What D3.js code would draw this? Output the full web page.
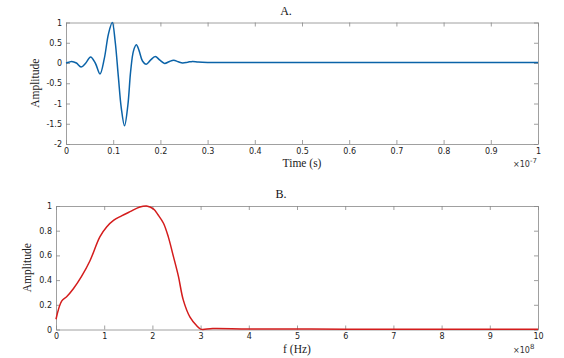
<!DOCTYPE html>
<html><head><meta charset="utf-8">
<script src="https://cdn.jsdelivr.net/npm/d3@7"></script>
<style>body{margin:0;background:#fff}svg{display:block}</style>
</head><body>
<svg id="c" width="564" height="358"></svg>
<script>
// Panel A: time (×1e-7 s) vs amplitude
const timeVals = [0,0.006,0.012,0.022,0.032,0.042,0.052,0.062,0.072,0.081,0.09,0.098,0.104,0.111,0.117,0.124,0.131,0.137,0.143,0.149,0.155,0.162,0.17,0.179,0.189,0.199,0.209,0.218,0.228,0.238,0.247,0.258,0.268,0.28,0.3,0.4,0.6,0.8,1.0];
const ampA     = [0,0.02,0.04,0.0,-0.1,0.0,0.15,0.0,-0.27,0.1,0.72,1.0,0.55,-0.35,-1.1,-1.55,-1.05,-0.2,0.3,0.45,0.3,0.05,-0.03,0.07,0.16,0.07,-0.01,0.03,0.07,0.03,0.0,0.02,0.04,0.025,0.015,0.012,0.011,0.01,0.01];
const xTicksA = [0,0.1,0.2,0.3,0.4,0.5,0.6,0.7,0.8,0.9,1];
const yTicksA = [-2,-1.5,-1,-0.5,0,0.5,1];

// Panel B: frequency (×1e8 Hz) vs amplitude
const freqVals = [0,0.117,0.22,0.36,0.53,0.705,0.91,1.05,1.2,1.36,1.535,1.74,1.88,2.02,2.12,2.23,2.33,2.43,2.54,2.64,2.78,2.92,3.0,3.25,4,6,8,10];
const ampB     = [0.083,0.23,0.265,0.33,0.43,0.557,0.75,0.83,0.885,0.92,0.954,0.992,1.0,0.976,0.927,0.86,0.75,0.6,0.43,0.24,0.1,0.03,0.003,0.008,0.005,0.003,0.002,0.002];
const xTicksB = [0,1,2,3,4,5,6,7,8,9,10];
const yTicksB = [0,0.2,0.4,0.6,0.8,1];

const svg = d3.select("#c");
const serif = "'Liberation Serif','DejaVu Serif',serif";
const sans = "'DejaVu Sans',sans-serif";

function panel(o){
  const x = d3.scaleLinear().domain(o.xd).range([o.l,o.r]);
  const y = d3.scaleLinear().domain(o.yd).range([o.b,o.t]);
  const g = svg.append("g");
  const ax = (gen, tr) => {
    const a = g.append("g").attr("transform",tr).call(gen);
    a.selectAll("path").attr("stroke","#888").attr("stroke-width",0.8);
    a.selectAll("line").attr("stroke","#888").attr("stroke-width",0.8);
    a.selectAll("text").attr("fill","#222").style("font-family",sans).style("font-size","8px");
    return a;
  };
  ax(d3.axisBottom(x).tickValues(o.xt).tickSize(-4).tickSizeOuter(0).tickPadding(4).tickFormat(d=>String(d)), `translate(0,${o.b})`);
  ax(d3.axisTop(x).tickValues(o.xt).tickSize(-4).tickSizeOuter(0).tickFormat(""), `translate(0,${o.t})`);
  ax(d3.axisLeft(y).tickValues(o.yt).tickSize(-4).tickSizeOuter(0).tickPadding(4).tickFormat(d=>String(d)), `translate(${o.l},0)`);
  ax(d3.axisRight(y).tickValues(o.yt).tickSize(-4).tickSizeOuter(0).tickFormat(""), `translate(${o.r},0)`);
  const line = d3.line().x((d,i)=>x(o.xs[i])).y(d=>y(d)).curve(d3.curveCatmullRom.alpha(0.5));
  g.append("path").datum(o.ys).attr("d",line).attr("fill","none")
    .attr("stroke",o.color).attr("stroke-width",1.5);
  g.append("text").attr("x",(o.l+o.r)/2-16).attr("y",o.t-8).attr("text-anchor","middle")
    .style("font-family",serif).style("font-size","12px").attr("fill","#111").text(o.title);
  g.append("text").attr("x",(o.l+o.r)/2).attr("y",o.b+23).attr("text-anchor","middle")
    .style("font-family",serif).style("font-size","11.5px").attr("fill","#222").text(o.xlabel);
  g.append("text").attr("transform",`translate(${o.ylx},${(o.t+o.b)/2}) rotate(-90)`).attr("text-anchor","middle")
    .style("font-family",serif).style("font-size","11.5px").attr("fill","#222").text("Amplitude");
  const m = g.append("text").attr("x",o.r-25).attr("y",o.b+23).style("font-family",sans).style("font-size","8px").attr("fill","#333");
  m.append("tspan").text("×10");
  m.append("tspan").attr("dy",-4).style("font-size","7px").text(o.exp);
}

panel({xd:[0,1],yd:[-2,1],l:66,r:538,t:22.5,b:144,xt:xTicksA,yt:yTicksA,xs:timeVals,ys:ampA,
  color:"#0b63a8",title:"A.",xlabel:"Time (s)",ylx:39,exp:"-7"});
panel({xd:[0,10],yd:[0,1],l:56,r:538,t:206,b:329.5,xt:xTicksB,yt:yTicksB,xs:freqVals,ys:ampB,
  color:"#d41c1c",title:"B.",xlabel:"f (Hz)",ylx:31,exp:"8"});
</script>
</body></html>
